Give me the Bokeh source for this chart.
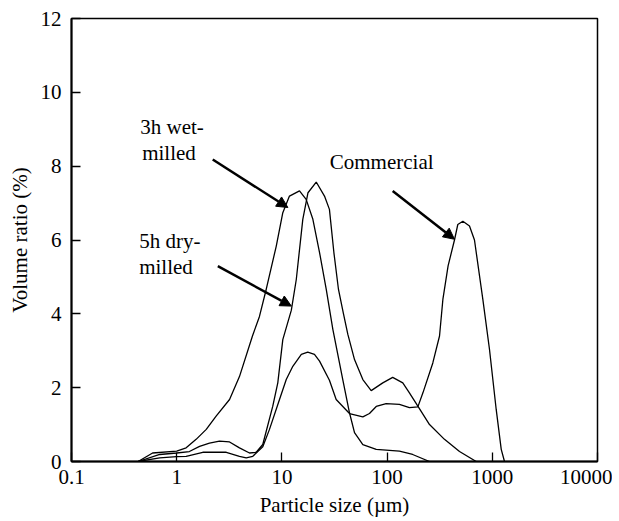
from bokeh.plotting import figure
from bokeh.models import Arrow, NormalHead, FixedTicker, CustomJSTickFormatter, ColumnDataSource
from bokeh.core.properties import value
from bokeh.embed import file_html
from bokeh.resources import INLINE

FONT = "Liberation Serif"

# 3h wet-milled
wet_x = [0.43, 0.59, 1.0, 1.23, 1.53, 1.91, 2.37, 3.18, 3.95, 5.25, 6.12, 7.09, 8.83, 10.2, 11.8, 14.7, 17.0,
         19.7, 22.8, 26.4, 30.5, 37.9, 43.9, 49.0, 58.8, 78.8, 131, 175, 253]
wet_y = [0, 0.23, 0.28, 0.37, 0.6, 0.87, 1.23, 1.68, 2.3, 3.4, 3.93, 4.66, 5.83, 6.74, 7.19, 7.33, 7.1,
         6.56, 5.66, 4.66, 3.58, 2.22, 1.32, 0.78, 0.46, 0.33, 0.28, 0.19, 0]

# 5h dry-milled
dry_x = [0.43, 0.69, 1.0, 1.32, 1.65, 2.05, 2.55, 3.18, 3.95, 4.92, 5.70, 6.58, 8.19, 9.14, 10.2, 12.3, 13.7,
         15.8, 17.7, 21.2, 25.4, 28.3, 31.2, 34.5, 38.5, 42.3, 49.0, 58.8, 70.6, 91.0, 113, 141, 163, 196,
         253, 351, 488, 703]
dry_y = [0, 0.19, 0.23, 0.27, 0.41, 0.5, 0.55, 0.53, 0.37, 0.23, 0.25, 0.46, 1.5, 2.13, 3.3, 4.1, 4.93,
         6.56, 7.28, 7.57, 7.19, 6.83, 5.66, 4.66, 4.0, 3.45, 2.76, 2.22, 1.92, 2.13, 2.28, 2.13, 1.86, 1.5,
         1.0, 0.6, 0.27, 0]

# Commercial
com_x = [0.43, 0.69, 1.0, 1.23, 1.77, 2.96, 3.95, 4.58, 5.29, 6.58, 7.62, 9.49, 11.0, 12.7, 15.3, 17.6,
         20.4, 22.8, 28.3, 32.8, 43.9, 58.8, 68.0, 78.8, 98, 131, 163, 196, 219, 272, 315, 339, 380, 437,
         470, 525, 607, 677, 813, 940, 1089, 1216, 1306]
com_y = [0, 0.1, 0.13, 0.14, 0.25, 0.25, 0.14, 0.1, 0.14, 0.4, 0.87, 1.68, 2.22, 2.58, 2.9, 2.96,
         2.9, 2.72, 2.2, 1.68, 1.3, 1.21, 1.3, 1.49, 1.57, 1.55, 1.46, 1.48, 1.86, 2.67, 3.4, 4.39, 5.3, 6.0,
         6.42, 6.51, 6.38, 6.0, 4.39, 3.04, 1.41, 0.33, 0]

x_ticks = [0.1, 1, 10, 100, 1000, 10000]
y_ticks = [0, 2, 4, 6, 8, 10, 12]

# annotations
ann_text = ["3h wet-", "milled", "5h dry-", "milled", "Commercial"]
ann_x = [0.45, 0.47, 0.44, 0.44, 28.5]
ann_y = [9.05, 8.37, 5.96, 5.26, 8.10]

arrow_x0 = [2.20, 2.46, 113]
arrow_y0 = [8.18, 5.29, 7.33]
arrow_x1 = [11.4, 12.3, 437]
arrow_y1 = [6.88, 4.21, 6.02]

p = figure(x_axis_type="log", x_range=(0.1, 10000), y_range=(0, 12),
           frame_width=526, frame_height=443,
           min_border_left=71, min_border_top=18, min_border_right=15, min_border_bottom=40,
           output_backend="svg", toolbar_location=None,
           background_fill_color="white", border_fill_color="white")

p.xgrid.visible = False
p.ygrid.visible = False
p.outline_line_color = "black"
p.outline_line_width = 1.5

for xs, ys in [(wet_x, wet_y), (dry_x, dry_y), (com_x, com_y)]:
    p.line(xs, ys, line_color="black", line_width=1.3)

src = ColumnDataSource(dict(x=ann_x, y=ann_y, t=ann_text))
p.text(x="x", y="y", text="t", source=src, text_font=value(FONT), text_font_size="21px",
       text_align="left", text_baseline="middle", text_color="black")

for i in range(len(arrow_x0)):
    p.add_layout(Arrow(end=NormalHead(size=11, fill_color="black", line_color="black", line_width=1),
                       x_start=arrow_x0[i], y_start=arrow_y0[i], x_end=arrow_x1[i], y_end=arrow_y1[i],
                       line_width=2.5, line_color="black"))

xa = p.xaxis[0]
xa.ticker = FixedTicker(ticks=x_ticks, minor_ticks=[])
xa.formatter = CustomJSTickFormatter(code="return tick.toString();")
ya = p.yaxis[0]
ya.ticker = FixedTicker(ticks=y_ticks, minor_ticks=[])

for ax in (xa, ya):
    ax.major_tick_in = 9
    ax.major_tick_out = 0
    ax.minor_tick_in = 0
    ax.minor_tick_out = 0
    ax.axis_line_width = 2
    ax.axis_line_color = "black"
    ax.major_tick_line_color = "black"
    ax.major_tick_line_width = 1.3
    ax.major_label_text_font = FONT
    ax.major_label_text_font_size = "21px"
    ax.major_label_text_color = "black"
    ax.axis_label_text_font = FONT
    ax.axis_label_text_font_size = "21px"
    ax.axis_label_text_font_style = "normal"
    ax.axis_label_text_color = "black"

xa.axis_label = "Particle size (\u00b5m)"
ya.axis_label = "Volume ratio (%)"
xa.major_label_standoff = 8
ya.major_label_standoff = 10
xa.axis_label_standoff = 6
ya.axis_label_standoff = 6

open("out.html", "w").write(file_html(p, INLINE))
